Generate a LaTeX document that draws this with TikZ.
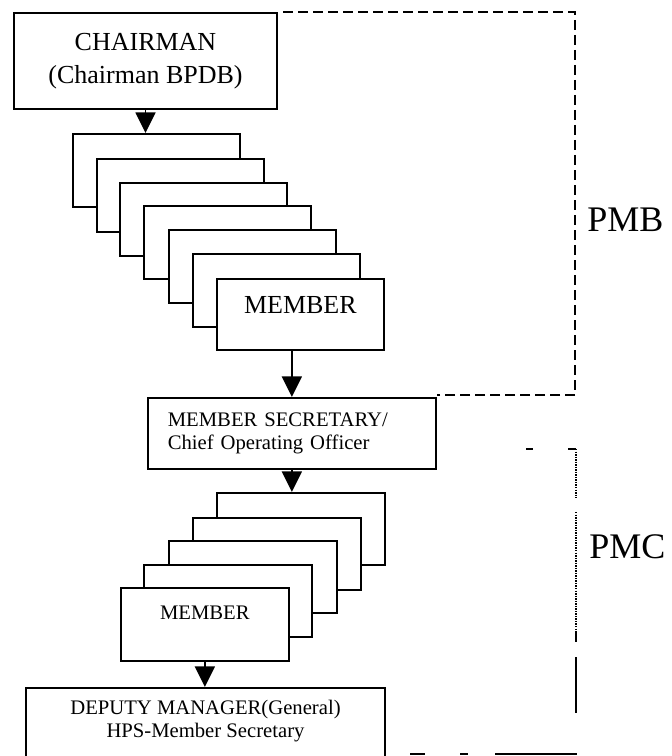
\documentclass[tikz,border=0pt]{standalone}
\usepackage{fontspec}
\setmainfont{Liberation Serif}
\usetikzlibrary{arrows.meta,calc}

\begin{document}
\begin{tikzpicture}[x=0.75pt,y=-0.75pt,
  box/.style={draw, fill=white, line width=1.3pt, inner sep=0pt, rectangle},
  bigfont/.style={font=\fontsize{19.5}{24.75}\selectfont},
  smallfont/.style={font=\fontsize{15.5}{17}\selectfont},
  pmbbox/.style={box, minimum width=125.25pt, minimum height=54.75pt, anchor=north west},
  pmcbox/.style={box, minimum width=126pt, minimum height=54pt, anchor=north west},
  flow/.style={line width=1.2pt, -{Triangle[width=15pt,length=15.5pt]}},
  tag/.style={font=\fontsize{27}{30}\selectfont, anchor=west, inner sep=0pt},
  pmbline/.style={line width=1.7pt, dash pattern=on 7.5pt off 3.75pt},
  pmcdots/.style={line width=1.5pt, dash pattern=on 1.1pt off 0.8pt},
  pmcline/.style={line width=1.2pt}
]
\useasboundingbox (0,0) rectangle (671,756);

% Project Management Board
\node[box, bigfont, minimum width=197.25pt, minimum height=72pt, align=center]
  (chair) at (145.5,61) {CHAIRMAN\\(Chairman BPDB)};

\node[pmbbox] (b1) at (72,133) {};
\node[pmbbox] (b2) at (96,158) {};
\node[pmbbox] (b3) at (119,182) {};
\node[pmbbox] (b4) at (143,205) {};
\node[pmbbox] (b5) at (168,229) {};
\node[pmbbox] (b6) at (192,253) {};
\node[pmbbox, bigfont, minimum height=0pt, text height=25.9pt, text depth=27.4pt]
  (b7) at (216,278) {MEMBER};

\node[box, smallfont, anchor=north west, text width=186pt, inner xsep=15pt,
      minimum height=53.25pt, align=left]
  (sec) at (147,397) {MEMBER SECRETARY/\\Chief Operating Officer};

% Project Management Committee
\node[pmcbox] (c1) at (216,492) {};
\node[pmcbox] (c2) at (192,517) {};
\node[pmcbox] (c3) at (168,540) {};
\node[pmcbox] (c4) at (143,564) {};
\node[pmcbox, smallfont, minimum height=0pt, text height=24pt, text depth=30.75pt]
  (c5) at (120,587) {MEMBER};

\node[box, anchor=north, minimum width=269.25pt, minimum height=75pt]
  (dep) at (205.5,687) {};
\node[smallfont, align=center, inner sep=0pt]
  (deptext) at (205.5,721) {DEPUTY MANAGER(General)\\HPS-Member Secretary};

% reporting lines
\draw[flow] (chair.south) -- (chair.south |- b1.north);
\draw[flow] (b7.south -| sec.north) -- (sec.north);
\draw[flow] (sec.south) -- (sec.south |- c1.north);
\draw[flow] (c5.south) -- (c5.south |- dep.north);

% PMB frame
\coordinate (pmbTL) at (283,12);
\coordinate (pmbTR) at (575,12);
\coordinate (pmbBR) at (575,395);
\draw[pmbline] (pmbTL) -- (pmbTR) -- (pmbBR) -- (sec.north east |- pmbBR);
\node[tag] (pmb) at (587,220) {PMB};

% PMC frame
\coordinate (pmcT) at (576,449);
\coordinate (pmcB) at (577,754);
\draw[pmcline] (526,449) -- (533,449);
\draw[pmcline] (568,449) -- (pmcT);
\draw[pmcdots] (pmcT) -- (576,498);
\draw[pmcdots] (576,512) -- (576,632);
\draw[pmcline] (576,632) -- (576,642);
\draw[pmcline] (576,657) -- (576,713);
\draw[pmcline] (410,754) -- (425,754);
\draw[pmcline] (460,754) -- (468,754);
\draw[pmcline] (495,754) -- (pmcB);
\node[tag] (pmc) at (589,547) {PMC};
\end{tikzpicture}
\end{document}
